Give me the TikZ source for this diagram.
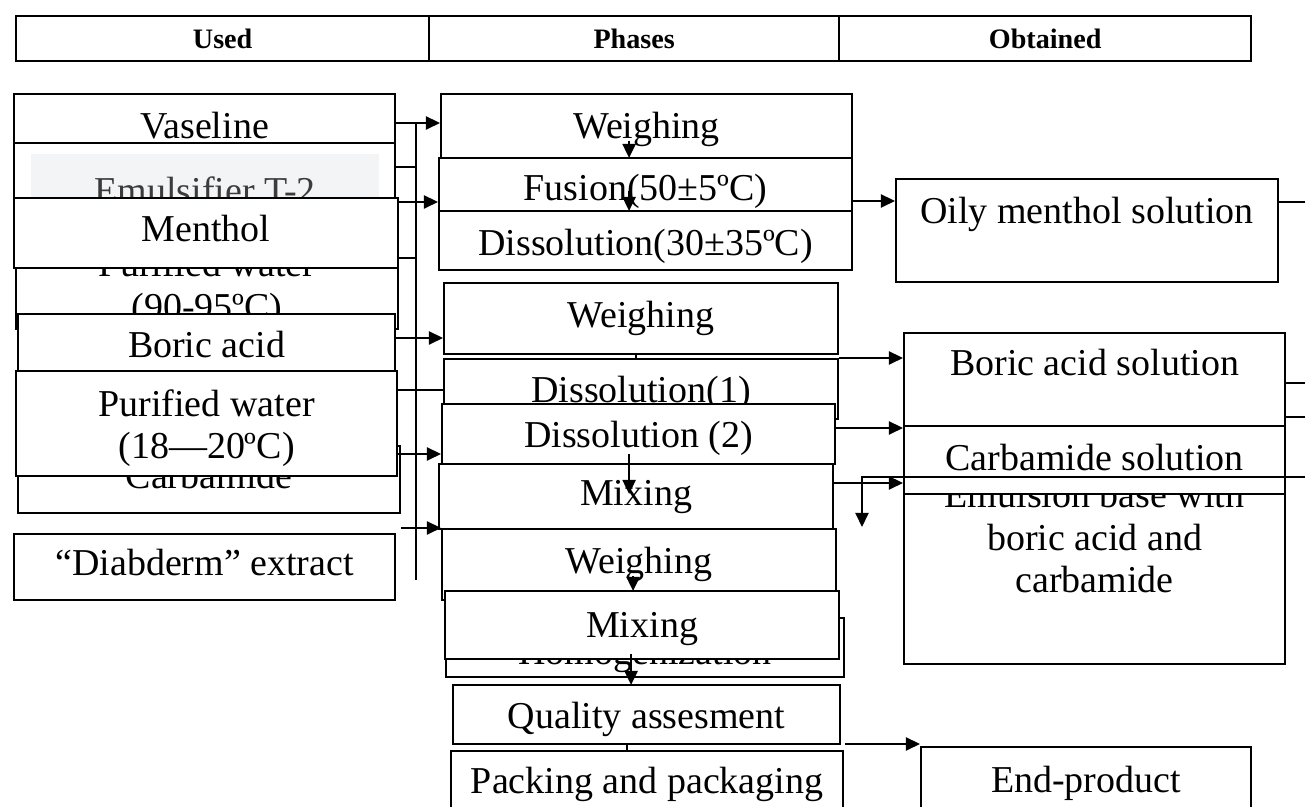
\documentclass[tikz,border=0pt]{standalone}
\usepackage{fontspec}
\setmainfont{Liberation Serif}
\usetikzlibrary{arrows.meta}
\definecolor{emulbg}{HTML}{F3F4F6}
\definecolor{emultext}{HTML}{3C3C3C}
\newcommand{\bodyfont}{\fontsize{10.8}{12.2}\selectfont}
\newcommand{\headfont}{\fontsize{8}{9.6}\selectfont\bfseries}

\begin{document}
\begin{tikzpicture}[x=0.01cm, y=-0.01cm,
   box/.style={draw, fill=white, line width=0.55pt, anchor=north west,
      inner sep=0pt, align=center, font=\bodyfont},
   strut/.style={text height=0.26cm, text depth=0.08cm},
   headcell/.style={draw, line width=0.6pt, anchor=north west, inner sep=0pt,
      minimum height=0.45cm, font=\headfont},
   conn/.style={line width=0.6pt},
   arr/.style={line width=0.6pt, -{Triangle[length=0.14cm, width=0.13cm]}}]
\useasboundingbox (0,0) rectangle (1305,807);
\clip (0,0) rectangle (1305,807);

% header
\node[headcell, minimum width=4.13cm] (used) at (15,15) {Used};
\node[headcell, minimum width=4.10cm] (phases) at (428,15) {Phases};
\node[headcell, minimum width=4.12cm] (obtained) at (838,15) {Obtained};

% used
\node[box, strut, minimum width=3.81cm, minimum height=0.72cm] (vaseline) at (13,93) {Vaseline};
\node[box, minimum width=3.81cm, minimum height=1.04cm] (emulbox) at (13,142) {};
\node[box, strut, draw=none, fill=emulbg, text=emultext, minimum width=3.48cm,
   minimum height=0.82cm] (emul) at (30,153) {Emulsifier T-2};
\node[box, minimum width=3.82cm, minimum height=0.81cm] (pw1) at (15,247) {Purified water\\(90-95ºC)};
\node[box, strut, minimum width=3.84cm, minimum height=0.70cm] (menthol) at (13,197) {Menthol};
\node[box, strut, minimum width=3.77cm, minimum height=0.70cm] (boric) at (17,313) {Boric acid};
\node[box, strut, minimum width=3.82cm, minimum height=0.67cm] (carbamide) at (17,445) {Carbamide};
\node[box, minimum width=3.81cm, minimum height=1.05cm] (pw2) at (15,370) {\rule{0pt}{0.36cm}Purified water\\(18—20ºC)};
\node[box, strut, minimum width=3.81cm, minimum height=0.66cm] (diabderm) at (13,533) {“Diabderm” extract};

% phases
\node[box, strut, minimum width=4.11cm, minimum height=0.72cm] (weigh1) at (440,93) {Weighing};
\node[box, strut, minimum width=4.13cm, minimum height=0.68cm] (fusion) at (438,157) {Fusion(50±5ºC)};
\node[box, strut, text height=0.39cm, minimum width=4.13cm, minimum height=0.59cm] (diss30) at (438,210) {Dissolution(30±35ºC)};
\node[box, strut, minimum width=3.94cm, minimum height=0.71cm] (weigh2) at (443,282) {Weighing};
\node[box, strut, text height=0.36cm, minimum width=3.94cm, minimum height=0.60cm] (diss1) at (443,358) {Dissolution(1)};
\node[box, strut, text height=0.36cm, minimum width=3.93cm, minimum height=0.60cm] (diss2) at (441,403) {Dissolution (2)};
\node[box, strut, minimum width=3.94cm, minimum height=0.65cm] (mix1) at (438,463) {Mixing};
\node[box, strut, minimum width=3.94cm, minimum height=0.71cm] (weigh3) at (441,528) {Weighing};
\node[box, strut, text height=0.43cm, minimum width=3.98cm, minimum height=0.59cm] (homog) at (445,617) {Homogenization};
\node[box, strut, text height=0.34cm, minimum width=3.94cm, minimum height=0.68cm] (mix2) at (444,590) {Mixing};
\node[box, strut, text height=0.37cm, minimum width=3.87cm, minimum height=0.59cm] (quality) at (452,684) {Quality assesment};
\node[box, strut, minimum width=3.92cm, minimum height=0.68cm] (packing) at (450,750) {Packing and packaging};

% obtained
\node[box, strut, text depth=0.39cm, minimum width=3.82cm, minimum height=1.03cm] (oily) at (895,178) {Oily menthol solution};
\node[box, minimum width=3.81cm, minimum height=2.54cm] (emuls) at (903,409) {Emulsion base with\\boric acid and\\carbamide};
\node[box, strut, text depth=0.33cm, minimum width=3.81cm, minimum height=0.93cm] (boricsol) at (903,332) {Boric acid solution};
\node[box, strut, text height=0.30cm, minimum width=3.81cm, minimum height=0.68cm] (carbsol) at (903,425) {Carbamide solution};
\node[box, strut, minimum width=3.30cm, minimum height=0.74cm] (endprod) at (920,746) {End-product};

\coordinate (bus1) at (416,122);
\coordinate (bus2) at (416,580);
\coordinate (edge) at (1305,0);
\coordinate (back) at (862,527);
\coordinate (qout) at (845,744);

% inputs
\draw[conn] (bus1) -- (bus2);
\draw[arr] (vaseline.east |- 0,123) -- (weigh1.west |- 0,123);
\draw[conn] (emulbox.east |- 0,167) -- (bus1 |- 0,167);
\draw[arr] (menthol.east |- 0,202) -- (fusion.west |- 0,202);
\draw[conn] (pw1.east |- 0,258) -- (bus1 |- 0,258);
\draw[arr] (boric.east |- 0,338) -- (weigh2.west |- 0,338);
\draw[conn] (pw2.east |- 0,390) -- (diss1.west |- 0,390);
\draw[arr] (pw2.east |- 0,454) -- (diss2.west |- 0,454);
\draw[arr] (carbamide.east |- 0,528) -- (weigh3.north west);

% phase steps
\draw[arr] ([shift={(-17.5,11)}]weigh1.center) -- ++(0,17);
\draw[arr] ([shift={(-16.5,-1)}]fusion.center) -- ++(0,20);
\draw[conn] ([shift={(-5,0)}]weigh2.south) -- ++(0,5);
\draw[arr] ([shift={(-9.5,20)}]diss2.center) -- ++(0,40);
\draw[arr] ([shift={(-6,11.5)}]weigh3.center) -- ++(0,15);
\draw[arr] ([shift={(-11,29)}]mix2.center) -- ++(0,31);
\draw[conn] ([shift={(-19.5,0)}]quality.south) -- ++(0,7);

% outputs
\draw[arr] (fusion.east |- 0,201) -- (oily.west |- 0,201);
\draw[conn] (oily.east |- 0,202) -- (edge |- 0,202);
\draw[arr] (diss1.north east) -- (boricsol.west |- diss1.north east);
\draw[conn] (boricsol.east |- 0,383) -- (edge |- 0,383);
\draw[conn] (boricsol.east |- 0,417) -- (edge |- 0,417);
\draw[arr] (diss2.east |- 0,428) -- (carbsol.west |- 0,428);
\draw[arr] (mix1.east |- 0,483) -- (emuls.west |- 0,483);
\draw[arr] (edge |- 0,477) -| (back);
\draw[arr] (qout) -- (qout -| endprod.west);
\end{tikzpicture}
\end{document}
